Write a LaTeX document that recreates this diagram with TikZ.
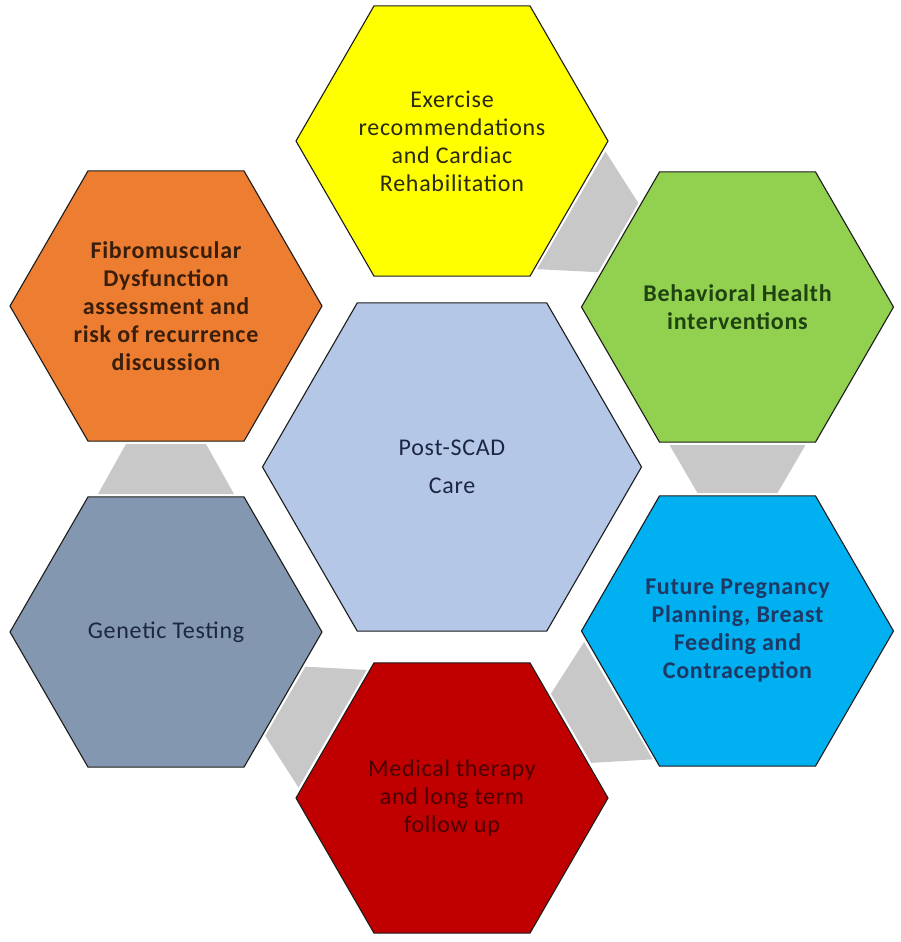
\documentclass[tikz,border=0pt]{standalone}
\usepackage{fontspec}
\setmainfont{Carlito}[LetterSpace=3.0]
\usetikzlibrary{shapes.geometric,calc,backgrounds}
\definecolor{hexline}{HTML}{1C1C1C}
\definecolor{linkgray}{HTML}{C8C8C8}
\definecolor{cYellow}{HTML}{FFFF00}
\definecolor{cGreen}{HTML}{92D050}
\definecolor{cOrange}{HTML}{ED7D31}
\definecolor{cCenter}{HTML}{B4C7E7}
\definecolor{cSlate}{HTML}{8497B0}
\definecolor{cBlue}{HTML}{00B0F0}
\definecolor{cRed}{HTML}{C00000}
\definecolor{tYellow}{HTML}{2A2A14}
\definecolor{tGreen}{HTML}{1E4210}
\definecolor{tOrange}{HTML}{3A1E0C}
\definecolor{tNavy}{HTML}{1C2640}
\definecolor{tBlue}{HTML}{1F3864}
\definecolor{tRed}{HTML}{4A0000}
\newcommand\linkbar[2]{%
  \path ($(#1.center)!138pt!(#2.center)$) coordinate (lkw)
        ($(#2.center)!138pt!(#1.center)$) coordinate (lkn);
  \fill[linkgray] ($(lkw)!68pt!90:(#2.center)$) -- ($(lkn)!40pt!-90:(#1.center)$)
     -- ($(lkn)!40pt!90:(#1.center)$) -- ($(lkw)!68pt!-90:(#2.center)$) -- cycle;}
\begin{document}
\begin{tikzpicture}[x=1pt,y=-1pt,
  hexa/.style={regular polygon, regular polygon sides=6, minimum size=312pt,
    inner sep=0pt, outer sep=0pt, draw=hexline, line width=1.1pt, align=center,
    font=\fontsize{24}{28}\selectfont},
  boldtext/.style={font=\fontsize{24}{28}\selectfont\bfseries}]
\useasboundingbox (0,0) rectangle (900,942);
\node[hexa, fill=cCenter, text=tNavy, minimum size=379pt] (care) at (452,467)
  {Post-SCAD\\[10pt]Care};
\node[hexa, fill=cYellow, text=tYellow] (exer) at (452,141)
  {Exercise\\recommendations\\and Cardiac\\Rehabilitation};
\node[hexa, boldtext, fill=cGreen, text=tGreen] (behav) at (737.5,307)
  {Behavioral Health\\interventions};
\node[hexa, boldtext, fill=cBlue, text=tBlue] (preg) at (737.5,631)
  {Future Pregnancy\\Planning, Breast\\Feeding and\\Contraception};
\node[hexa, fill=cRed, text=tRed] (med) at (452,798)
  {Medical therapy\\and long term\\follow up};
\node[hexa, fill=cSlate, text=tNavy] (gene) at (166,632)
  {Genetic Testing};
\node[hexa, boldtext, fill=cOrange, text=tOrange] (fibro) at (166,306)
  {Fibromuscular\\Dysfunction\\assessment and\\risk of recurrence\\discussion};
\begin{scope}[on background layer]
  \fill[white] (0,0) rectangle (900,942);
  \linkbar{exer}{behav}
  \linkbar{behav}{preg}
  \linkbar{preg}{med}
  \linkbar{med}{gene}
  \linkbar{gene}{fibro}
\end{scope}
\end{tikzpicture}
\end{document}
